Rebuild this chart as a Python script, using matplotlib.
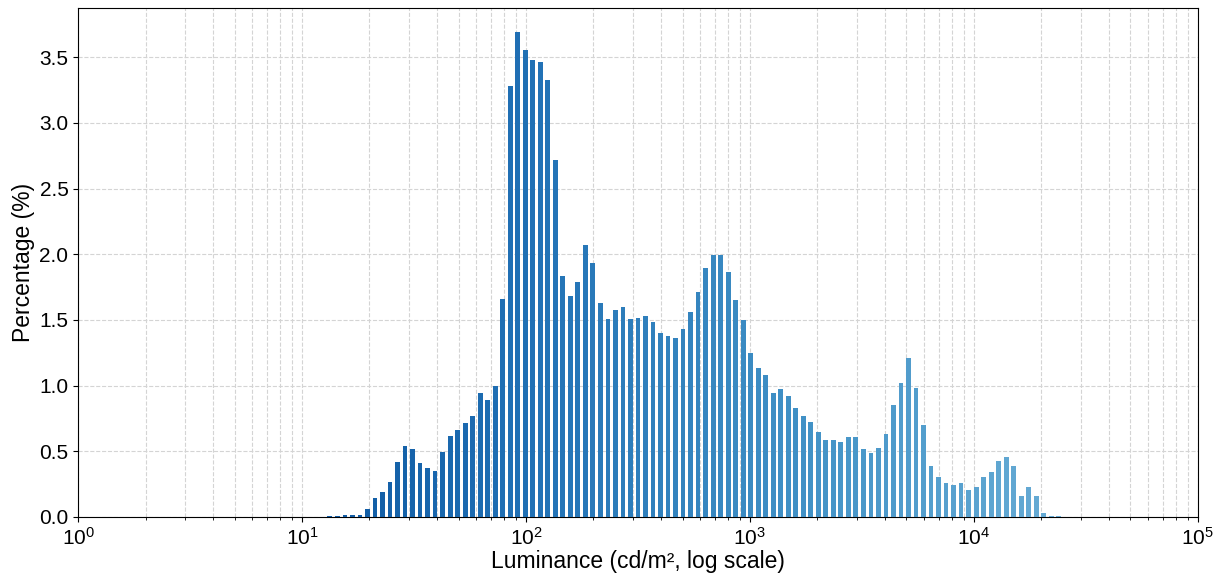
import matplotlib
matplotlib.use("Agg")
import matplotlib.pyplot as plt
import numpy as np

plt.rcParams['font.family'] = ['Liberation Sans', 'DejaVu Sans']

# 149 log-spaced bins from 10^0 to 10^5
edges = np.logspace(0, 5, 150)

# percentage per bin (bins 0..148)
first_bin = 32
pct = [
    0.003, 0.005, 0.005, 0.013, 0.013, 0.018, 0.06, 0.145, 0.19, 0.27,
    0.42, 0.54, 0.515, 0.41, 0.37, 0.35, 0.495, 0.617, 0.66, 0.716,
    0.77, 0.943, 0.889, 0.996, 1.657, 3.28, 3.69, 3.554, 3.48, 3.463,
    3.326, 2.716, 1.837, 1.684, 1.789, 2.073, 1.936, 1.631, 1.509, 1.575,
    1.596, 1.504, 1.517, 1.527, 1.484, 1.397, 1.377, 1.362, 1.435, 1.557,
    1.715, 1.895, 1.997, 1.997, 1.862, 1.649, 1.496, 1.25, 1.138, 1.08,
    0.943, 0.976, 0.92, 0.833, 0.77, 0.72, 0.645, 0.589, 0.589, 0.574,
    0.607, 0.61, 0.518, 0.488, 0.523, 0.633, 0.849, 1.019, 1.207, 0.983,
    0.701, 0.386, 0.307, 0.259, 0.246, 0.259, 0.208, 0.226, 0.307, 0.34,
    0.427, 0.455, 0.386, 0.158, 0.231, 0.158, 0.03, 0.006, 0.004,
]

heights = np.zeros(len(edges) - 1)
heights[first_bin:first_bin + len(pct)] = pct

# bars drawn narrower than the bin, in log space
logl = np.log10(edges[:-1])
logr = np.log10(edges[1:])
d = logr - logl
frac = 0.64
left = 10 ** (logl + d * (1 - frac) / 2)
right = 10 ** (logr - d * (1 - frac) / 2)

colors = plt.cm.Blues(np.linspace(0.95, 0.45, len(heights)))

fig = plt.figure(figsize=(12.21, 5.77), dpi=100)
ax = fig.add_axes([0.064, 0.104, 0.917, 0.882])
ax.bar(left, heights, width=right - left, align='edge',
       color=colors, linewidth=0, zorder=3)

ax.set_xscale('log')
ax.set_xlim(1, 1e5)
ax.set_ylim(0, max(pct) * 1.05)
ax.set_yticks(np.arange(0, 3.6, 0.5))
ax.grid(which='both', axis='x', linestyle='--', color='#d4d4d4', linewidth=0.8, zorder=0)
ax.grid(which='major', axis='y', linestyle='--', color='#d4d4d4', linewidth=0.8, zorder=0)
ax.tick_params(labelsize=15)
ax.set_xlabel("Luminance (cd/m², log scale)", fontsize=16.5, labelpad=1)
ax.set_ylabel("Percentage (%)", fontsize=16.5, labelpad=3)

fig.savefig("out.png", dpi=100)
